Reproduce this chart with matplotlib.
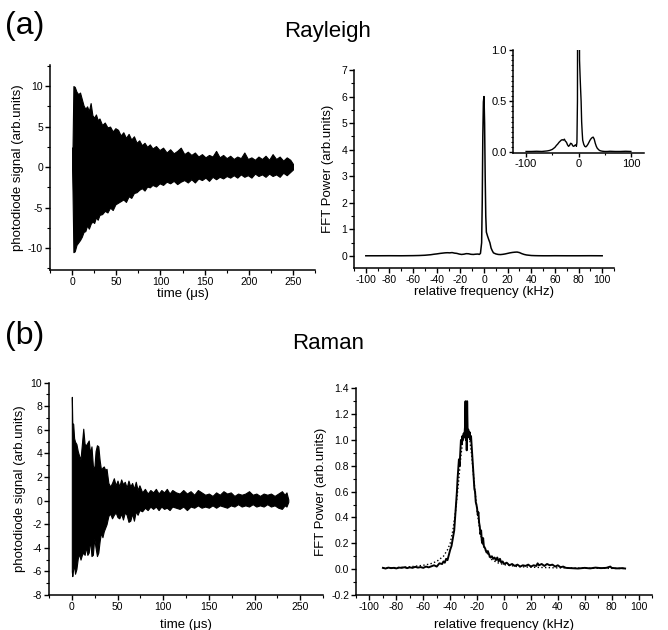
import matplotlib
matplotlib.use("Agg")
import matplotlib.pyplot as plt
from matplotlib.ticker import MultipleLocator

plt.rcParams["font.family"] = ["Liberation Sans", "DejaVu Sans"]
plt.rcParams["axes.unicode_minus"] = False

# (a) Rayleigh: time-domain signal envelope (us, arb.units)
ray_time = [0, 0.5, 1.5, 3, 5, 7, 9, 11, 13, 15,
            17, 19, 21, 23, 25, 27, 29, 31, 34, 37,
            40, 43, 46, 49, 52, 55, 58, 61, 64, 67,
            70, 73, 76, 79, 82, 85, 88, 91, 95, 99,
            103, 107, 111, 115, 119, 123, 127, 131, 135, 139,
            143, 147, 151, 155, 159, 163, 167, 171, 175, 179,
            183, 187, 191, 195, 199, 203, 207, 211, 215, 219,
            223, 227, 231, 235, 239, 243, 247, 250]
ray_upper = [2.4, 2.4, 10.0, 9.9, 9.3, 9.0, 9.2, 8.4, 7.6, 7.2,
             7.5, 6.9, 7.9, 6.4, 6.1, 6.5, 5.8, 6.0, 5.2, 5.5,
             4.9, 5.0, 4.4, 4.8, 4.6, 3.9, 4.3, 3.6, 4.1, 3.4,
             3.8, 3.0, 3.3, 2.7, 3.0, 2.5, 2.8, 2.3, 2.6, 2.1,
             2.4, 1.8, 2.2, 1.7, 2.0, 2.4, 1.6, 1.9, 1.5, 1.8,
             1.3, 1.6, 1.2, 1.5, 1.3, 2.0, 1.2, 1.5, 1.1, 1.4,
             1.0, 1.3, 1.1, 1.8, 1.0, 1.2, 0.9, 1.3, 1.0, 1.4,
             0.9, 1.6, 1.0, 1.3, 0.8, 1.2, 0.9, 0.4]
ray_lower = [-0.3, -3.0, -10.5, -10.4, -9.6, -9.3, -9.0, -8.6, -8.0, -7.9,
             -7.2, -7.6, -7.0, -6.7, -6.9, -6.2, -6.5, -5.9, -5.8, -5.4,
             -5.6, -5.0, -5.3, -4.6, -4.4, -4.2, -4.0, -4.3, -3.6, -3.8,
             -3.2, -3.1, -2.8, -2.6, -2.9, -2.4, -2.5, -2.2, -2.4, -2.0,
             -2.2, -1.8, -2.0, -1.7, -2.1, -1.8, -1.6, -1.9, -1.5, -1.9,
             -1.4, -1.6, -1.3, -1.7, -1.2, -1.5, -1.2, -1.4, -1.1, -1.3,
             -1.0, -1.3, -0.9, -1.2, -1.0, -1.3, -0.8, -1.1, -0.9, -1.2,
             -0.8, -1.1, -0.9, -1.2, -0.7, -1.0, -0.6, -0.3]

# (a) Rayleigh: FFT power spectrum (kHz, arb.units)
ray_freq = [-100, -90, -80, -70, -60, -55, -50, -45, -42, -40,
            -37, -35, -33, -31, -29, -27, -25, -23, -21, -19,
            -17, -15, -13, -11, -9, -7, -5, -4, -3, -2,
            -1.5, -1, -0.5, 0, 0.5, 1, 1.5, 2, 3, 4,
            5, 6, 7, 8, 10, 12, 14, 16, 18, 20,
            22, 24, 26, 28, 30, 32, 34, 36, 38, 40,
            43, 46, 50, 55, 60, 70, 80, 90, 100]
ray_power = [0.01, 0.01, 0.012, 0.01, 0.015, 0.02, 0.03, 0.05, 0.07, 0.08,
             0.10, 0.11, 0.12, 0.125, 0.12, 0.13, 0.11, 0.10, 0.075, 0.06,
             0.07, 0.09, 0.085, 0.065, 0.06, 0.07, 0.075, 0.06, 0.10, 0.5,
             2.0, 4.5, 5.8, 6.0, 5.0, 3.0, 1.5, 0.9, 0.75, 0.62,
             0.5, 0.3, 0.2, 0.12, 0.08, 0.06, 0.055, 0.065, 0.08, 0.10,
             0.12, 0.135, 0.145, 0.15, 0.13, 0.09, 0.06, 0.04, 0.03, 0.02,
             0.015, 0.012, 0.01, 0.01, 0.012, 0.01, 0.01, 0.012, 0.01]

# (b) Raman: time-domain signal envelope (us, arb.units)
ram_time = [0, 0.5, 1.5, 2.5, 3.5, 5, 6.5, 8, 9.5, 11,
            12.5, 14, 15.5, 17, 18.5, 20, 21.5, 23, 24.5, 26,
            27.5, 29, 30.5, 32, 33.5, 35, 36.5, 38, 40, 42,
            44, 46, 48, 50, 52, 54, 56, 58, 60, 62,
            64, 66, 68, 70, 72, 74, 77, 80, 83, 86,
            89, 92, 95, 98, 101, 104, 107, 110, 114, 118,
            122, 126, 130, 134, 138, 142, 146, 150, 154, 158,
            162, 166, 170, 174, 178, 182, 186, 190, 194, 198,
            202, 206, 210, 214, 218, 222, 226, 230, 233, 235,
            237]
ram_upper = [8.8, 6.6, 6.5, 5.3, 5.0, 4.8, 4.2, 3.8, 3.5, 4.8,
             6.1, 4.8, 4.7, 4.9, 5.1, 4.0, 4.6, 3.0, 2.6, 4.2,
             4.7, 4.6, 3.4, 2.6, 2.8, 2.9, 2.6, 2.7, 1.5, 1.2,
             1.5, 1.9, 1.3, 1.7, 1.2, 1.8, 1.4, 1.6, 1.1, 1.7,
             1.2, 1.5, 1.0, 1.6, 0.9, 1.3, 0.7, 1.0, 0.6, 0.9,
             0.7, 1.0, 0.6, 0.9, 0.7, 1.0, 0.6, 0.9, 0.7, 0.6,
             0.9, 0.6, 0.8, 0.5, 0.9, 0.7, 0.5, 0.6, 0.4, 0.7,
             0.5, 0.8, 0.6, 0.7, 0.4, 0.6, 0.5, 0.6, 0.8, 0.5,
             0.6, 0.4, 0.6, 0.5, 0.6, 0.4, 0.6, 0.8, 0.5, 0.7,
             0.1]
ram_lower = [-6.0, -6.4, -5.8, -5.5, -6.2, -5.8, -4.9, -4.5, -5.0, -4.6,
             -4.4, -4.6, -3.9, -4.6, -4.4, -3.3, -4.7, -4.6, -3.2, -4.0,
             -4.7, -4.4, -3.4, -2.7, -3.1, -2.6, -2.3, -2.0, -1.3, -1.1,
             -1.5, -1.2, -1.0, -1.4, -1.5, -1.1, -1.6, -1.0, -1.2, -1.8,
             -1.7, -1.1, -1.7, -0.9, -1.2, -0.8, -0.9, -0.6, -0.8, -0.5,
             -0.7, -0.5, -0.8, -0.5, -0.7, -0.6, -0.8, -0.5, -0.6, -0.7,
             -0.5, -0.8, -0.5, -0.6, -0.4, -0.6, -0.5, -0.6, -0.4, -0.6,
             -0.4, -0.5, -0.6, -0.4, -0.5, -0.3, -0.5, -0.4, -0.5, -0.3,
             -0.5, -0.4, -0.5, -0.3, -0.5, -0.4, -0.6, -0.7, -0.4, -0.5,
             -0.1]

# (b) Raman: FFT power spectrum (measured) and fit (dotted)
ram_freq = [-90, -88, -86, -84, -82, -80, -78, -76, -74, -72,
            -70, -68, -66, -64, -62, -60, -58, -56, -54, -52,
            -50, -48, -46, -45, -44, -43, -42, -41, -40, -39,
            -38, -37, -36.5, -36, -35.5, -35, -34.5, -34, -33.5, -33,
            -32.5, -32, -31.5, -31, -30.5, -30, -29.5, -29, -28.6, -28.3,
            -28, -27.7, -27.4, -27, -26.5, -26, -25.5, -25, -24.5, -24,
            -23.5, -23, -22.5, -22, -21.5, -21, -20.5, -20, -19.5, -19,
            -18.5, -18, -17.5, -17, -16.5, -16, -15.5, -15, -14, -13,
            -12, -11, -10, -9, -8, -7, -6, -5, -4, -3,
            -2, -1, 0, 2, 4, 6, 8, 10, 12, 14,
            16, 18, 20, 22, 24, 25, 26, 28, 30, 32,
            34, 36, 38, 40, 42, 44, 46, 50, 55, 60,
            64, 68, 72, 76, 79, 80, 84, 88, 90]
ram_power = [0.01, 0.005, 0.012, 0.008, 0.01, 0.006, 0.012, 0.01, 0.015, 0.008,
             0.014, 0.01, 0.018, 0.012, 0.016, 0.01, 0.02, 0.014, 0.022, 0.03,
             0.02, 0.045, 0.04, 0.06, 0.05, 0.08, 0.07, 0.11, 0.15, 0.18,
             0.24, 0.30, 0.38, 0.45, 0.52, 0.60, 0.70, 0.78, 0.85, 0.80,
             0.90, 1.00, 0.97, 1.03, 1.00, 1.05, 1.02, 1.10, 1.30, 1.00,
             1.28, 0.92, 1.30, 1.05, 1.08, 1.02, 1.06, 1.00, 1.03, 0.95,
             0.88, 0.80, 0.70, 0.62, 0.60, 0.52, 0.50, 0.47, 0.42, 0.44,
             0.36, 0.33, 0.27, 0.30, 0.22, 0.20, 0.24, 0.18, 0.16, 0.13,
             0.14, 0.11, 0.09, 0.10, 0.08, 0.09, 0.07, 0.09, 0.06, 0.08,
             0.05, 0.06, 0.04, 0.05, 0.03, 0.04, 0.025, 0.035, 0.02, 0.03,
             0.025, 0.035, 0.02, 0.03, 0.025, 0.045, 0.03, 0.04, 0.025, 0.04,
             0.03, 0.035, 0.02, 0.03, 0.015, 0.02, 0.01, 0.008, 0.005, 0.01,
             0.006, 0.012, 0.008, 0.01, 0.02, 0.01, 0.006, 0.008, 0.005]
fit_freq = [-90, -80, -70, -60, -55, -50, -45, -42, -40, -38,
            -36, -34, -32, -30, -28, -26, -24, -22, -20, -18,
            -16, -14, -10, -5, 0, 10, 20, 40, 60, 90]
fit_power = [0.01, 0.012, 0.018, 0.03, 0.04, 0.06, 0.10, 0.15, 0.20, 0.30,
             0.45, 0.65, 0.88, 1.05, 1.10, 1.05, 0.88, 0.65, 0.45, 0.30,
             0.20, 0.15, 0.08, 0.05, 0.035, 0.02, 0.015, 0.01, 0.008, 0.005]

W, H = 668, 630
fig = plt.figure(figsize=(W / 100, H / 100), dpi=100)


def box(left, top, right, bottom):
    return [left / W, 1 - bottom / H, (right - left) / W, (bottom - top) / H]


def style(ax, tick_size=7.5):
    for s in ["top", "right"]:
        ax.spines[s].set_visible(False)
    for s in ["left", "bottom"]:
        ax.spines[s].set_linewidth(1.1)
    ax.tick_params(which="major", direction="out", length=3.5, width=1.0,
                   labelsize=tick_size, pad=1.5)
    ax.tick_params(which="minor", direction="out", length=2, width=0.8)


# (a) left: Rayleigh time signal
ax1 = fig.add_axes(box(50, 65, 315, 270))
ax1.fill_between(ray_time, ray_lower, ray_upper, color="black", lw=0.8)
ax1.set_xlim(-25, 275)
ax1.set_ylim(-12.7, 12.6)
ax1.xaxis.set_major_locator(MultipleLocator(50))
ax1.xaxis.set_minor_locator(MultipleLocator(25))
ax1.yaxis.set_major_locator(MultipleLocator(5))
ax1.yaxis.set_minor_locator(MultipleLocator(2.5))
style(ax1)
ax1.set_xlabel("time (\u03bcs)", fontsize=9.5, labelpad=1)
ax1.set_ylabel("photodiode signal (arb.units)", fontsize=9.5, labelpad=3)

# (a) right: Rayleigh spectrum
ax2 = fig.add_axes(box(354, 70, 614, 268))
ax2.plot(ray_freq, ray_power, color="black", lw=1.1)
ax2.set_xlim(-110, 110)
ax2.set_ylim(-0.45, 7)
ax2.xaxis.set_major_locator(MultipleLocator(20))
ax2.xaxis.set_minor_locator(MultipleLocator(10))
ax2.yaxis.set_major_locator(MultipleLocator(1))
ax2.yaxis.set_minor_locator(MultipleLocator(0.5))
style(ax2)
ax2.set_xlabel("relative frequency (kHz)", fontsize=9.5, labelpad=1)
ax2.set_ylabel("FFT Power (arb.units)", fontsize=9.5, labelpad=5)

# inset: zoom on the side bands
axi = fig.add_axes(box(513, 50, 644, 153))
axi.set_facecolor("none")
axi.plot(ray_freq, ray_power, color="black", lw=1.0)
axi.set_xlim(-125, 125)
axi.set_ylim(-0.005, 1.0)
axi.xaxis.set_major_locator(MultipleLocator(100))
axi.xaxis.set_minor_locator(MultipleLocator(50))
axi.yaxis.set_major_locator(MultipleLocator(0.5))
axi.yaxis.set_minor_locator(MultipleLocator(0.05))
style(axi, tick_size=8)
axi.tick_params(which="major", length=3)
axi.tick_params(which="minor", length=1.5)

# (b) left: Raman time signal
ax3 = fig.add_axes(box(49, 382.7, 323, 595))
ax3.fill_between(ram_time, ram_lower, ram_upper, color="black", lw=0.8)
ax3.set_xlim(-25, 275)
ax3.set_ylim(-8, 10)
ax3.xaxis.set_major_locator(MultipleLocator(50))
ax3.xaxis.set_minor_locator(MultipleLocator(25))
ax3.yaxis.set_major_locator(MultipleLocator(2))
ax3.yaxis.set_minor_locator(MultipleLocator(1))
style(ax3)
ax3.set_xlabel("time (\u03bcs)", fontsize=9.5, labelpad=5)
ax3.set_ylabel("photodiode signal (arb.units)", fontsize=9.5, labelpad=3)

# (b) right: Raman spectrum with fit
ax4 = fig.add_axes(box(356, 388.3, 652, 595))
ax4.plot(fit_freq, fit_power, color="black", lw=1.0, ls=":")
ax4.plot(ram_freq, ram_power, color="black", lw=1.4)
ax4.set_xlim(-110, 110)
ax4.set_ylim(-0.2, 1.4)
ax4.xaxis.set_major_locator(MultipleLocator(20))
ax4.xaxis.set_minor_locator(MultipleLocator(10))
ax4.yaxis.set_major_locator(MultipleLocator(0.2))
ax4.yaxis.set_minor_locator(MultipleLocator(0.1))
style(ax4)
ax4.yaxis.set_major_formatter(plt.FormatStrFormatter("%.1f"))
ax4.set_xlabel("relative frequency (kHz)", fontsize=9.5, labelpad=5)
ax4.set_ylabel("FFT Power (arb.units)", fontsize=9.5, labelpad=3)

fig.text(5 / W, 1 - 26 / H, "(a)", fontsize=23, ha="left", va="center")
fig.text(328 / W, 1 - 32 / H, "Rayleigh", fontsize=16, ha="center", va="center")
fig.text(5 / W, 1 - 336 / H, "(b)", fontsize=23, ha="left", va="center")
fig.text(328 / W, 1 - 344 / H, "Raman", fontsize=16, ha="center", va="center")

fig.savefig("out.png", dpi=100)
